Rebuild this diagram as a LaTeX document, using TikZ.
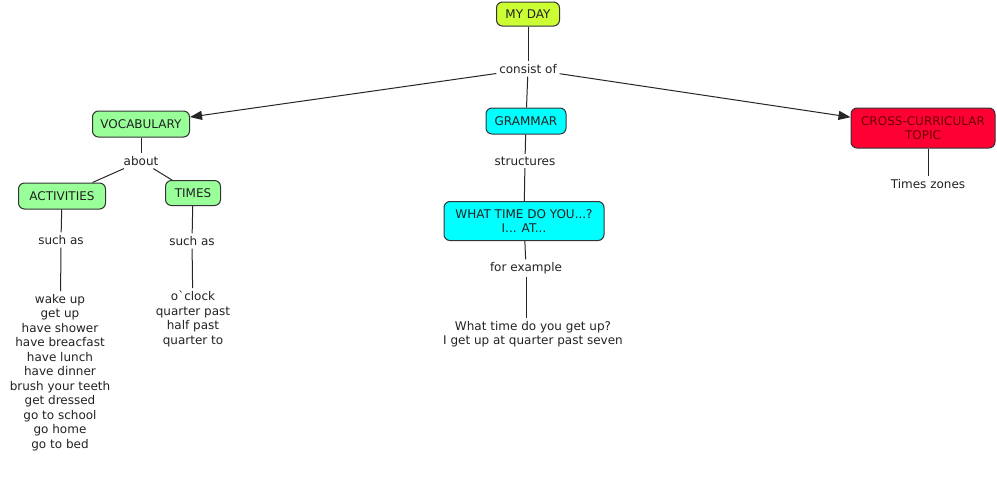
\documentclass[tikz,border=0pt]{standalone}
\usepackage{fontspec}
\setmainfont{DejaVu Sans}
\newfontfamily\nomapfont{DejaVu Sans}
\usetikzlibrary{arrows.meta}
\newdimen\unitpx \unitpx=0.75pt
\definecolor{cyellow}{HTML}{CCFF33}
\definecolor{cgreen}{HTML}{99FF99}
\definecolor{ccyan}{HTML}{00FFFF}
\definecolor{cred}{HTML}{FF0033}
\definecolor{cborder}{HTML}{333333}
\definecolor{ctext}{HTML}{222222}
\definecolor{credtext}{HTML}{6B0000}
\tikzset{
  concept/.style={draw=cborder, line width=0.75pt, rounded corners=4.5pt, align=center,
    inner sep=0pt, font=\fontsize{9}{11}\selectfont, text=ctext},
  lbl/.style={inner sep=2pt, align=center, font=\fontsize{9}{10.9}\selectfont, text=ctext},
  conn/.style={draw=black!85, line width=0.75pt},
  arr/.style={conn, -{Triangle[length=9pt,width=6.75pt]}},
}
\begin{document}
\begin{tikzpicture}[x=1\unitpx, y=-1\unitpx]
\useasboundingbox (0,0) rectangle (997,476);
\fill[white] (0,0) rectangle (997,476);
% concepts
\node[concept, fill=cyellow, minimum width=63\unitpx, minimum height=24\unitpx] (myday) at (528,14) {MY DAY};
\node[concept, fill=cgreen, minimum width=97\unitpx, minimum height=26\unitpx] (voc) at (141,124) {VOCABULARY};
\node[concept, fill=ccyan, minimum width=80\unitpx, minimum height=26\unitpx] (gram) at (526,121) {GRAMMAR};
\node[concept, fill=cred, text=credtext, minimum width=144\unitpx, minimum height=40\unitpx] (cross) at (923,128) {CROSS-CURRICULAR\\[-1pt]TOPIC};
\node[concept, fill=cgreen, minimum width=87\unitpx, minimum height=26\unitpx] (act) at (62,196) {ACTIVITIES};
\node[concept, fill=cgreen, minimum width=55\unitpx, minimum height=25\unitpx] (times) at (193,193) {TIMES};
\node[concept, fill=ccyan, minimum width=160\unitpx, minimum height=39\unitpx] (what) at (524,221) {WHAT TIME DO YOU...?\\[-1pt]I... AT...};
% linking phrases
\node[lbl] (cons) at (528,69) {consist of};
\node[lbl] (about) at (141,161) {about};
\node[lbl] (such1) at (61,240) {such as};
\node[lbl] (such2) at (192,241) {such as};
\node[lbl] (struct) at (525,161) {structures};
\node[lbl] (forex) at (526,268) {for example};
% leaves
\node[lbl, anchor=north] (actlist) at (60,291) {wake up\\get up\\have shower\\have breacfast\\have lunch\\have dinner\\brush your teeth\\get dressed\\go to school\\go home\\go to bed};
\node[lbl, anchor=north] (timelist) at (193,288) {{\nomapfont o`clock}\\quarter past\\half past\\quarter to};
\node[lbl, anchor=north] (example) at (533,318) {What time do you get up?\\I get up at quarter past seven};
\node[lbl] (zones) at (928,184) {Times zones};
% connectors
\draw[conn] (myday) -- (cons);
\draw[arr] (cons) -- (voc);
\draw[conn] (cons) -- (gram);
\draw[arr] (cons) -- (cross);
\draw[conn] (voc) -- (about);
\draw[conn] (about) -- (act);
\draw[conn] (about) -- (times);
\draw[conn] (act) -- (such1);
\draw[conn] (such1) -- (actlist);
\draw[conn] (times) -- (such2);
\draw[conn] (such2) -- (timelist);
\draw[conn] (gram) -- (struct);
\draw[conn] (struct) -- (what);
\draw[conn] (what) -- (forex);
\draw[conn] (forex) -- (forex |- example.north);
\draw[conn] (cross.south -| zones) -- (zones);
\end{tikzpicture}
\end{document}
